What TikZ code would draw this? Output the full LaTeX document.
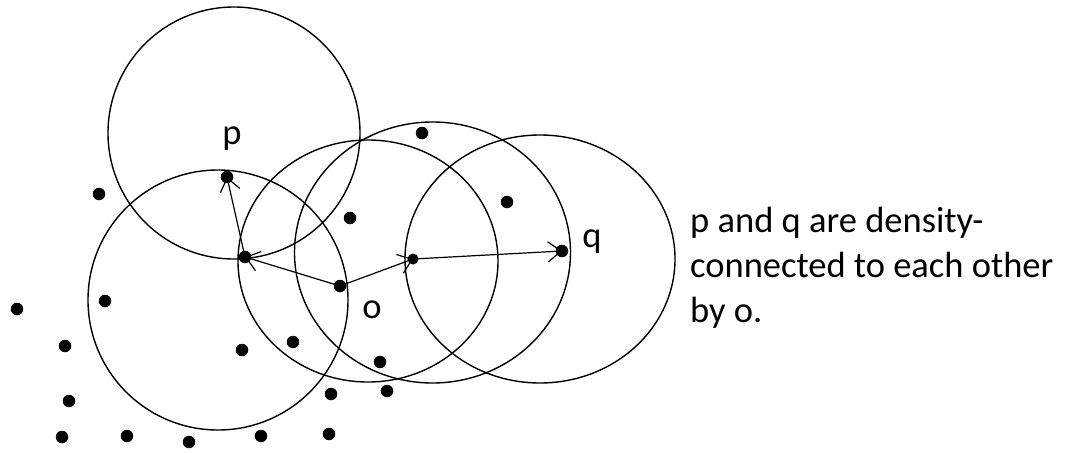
\documentclass[tikz,border=0pt]{standalone}
\usepackage{fontspec}
\setmainfont{Carlito}
\usetikzlibrary{arrows.meta}
\begin{document}
\begin{tikzpicture}[x=1pt,y=-1pt,
  dot/.style={circle, fill=black, inner sep=0pt, minimum size=12.5pt},
  ring/.style={draw=black, line width=1.4pt},
  link/.style={draw=black, line width=1.2pt, -{Straight Barb[length=13pt, width=20pt, line width=1.2pt]}},
  lbl/.style={font=\fontsize{36.5pt}{45pt}\selectfont, inner sep=0pt, anchor=base},
  caption/.style={font=\fontsize{36.5pt}{45pt}\selectfont, inner sep=0pt, anchor=base west}]
\useasboundingbox (0,0) rectangle (1067,452);
% circles (neighbourhoods)
\draw[ring] (234,133) ellipse [x radius=126pt, y radius=126pt];
\draw[ring] (218,300) ellipse [x radius=130pt, y radius=130pt];
\draw[ring] (368,261) ellipse [x radius=130pt, y radius=121pt];
\draw[ring] (432.5,252.5) ellipse [x radius=138pt, y radius=130.5pt];
\draw[ring] (540,259) ellipse [x radius=135pt, y radius=124pt];
% named points
\node[dot] (p) at (227,177) {};
\node[dot] (a) at (245,257) {};
\node[dot] (o) at (340,286) {};
\node[dot, minimum size=11pt] (r) at (413,259) {};
\node[dot] (q) at (562,251) {};
% other points
\node[dot] (d1) at (99,194) {};
\node[dot] (d2) at (350,218) {};
\node[dot] (d3) at (422,133) {};
\node[dot] (d4) at (507,202) {};
\node[dot] (d5) at (105,301) {};
\node[dot] (d6) at (17,309) {};
\node[dot] (d7) at (65,346) {};
\node[dot] (d8) at (242,350) {};
\node[dot] (d9) at (293,342) {};
\node[dot] (d10) at (380,362) {};
\node[dot] (d11) at (331,394) {};
\node[dot] (d12) at (387,391) {};
\node[dot] (d13) at (69,401) {};
\node[dot] (d14) at (62,437) {};
\node[dot] (d15) at (127,436) {};
\node[dot] (d16) at (189,442) {};
\node[dot] (d17) at (261,436) {};
\node[dot] (d18) at (329,434) {};
% arrows
\draw[link] (a.center) -- (p.center);
\draw[link] (o.center) -- (a.center);
\draw[link] (o.center) -- (r.center);
\draw[link] (r.center) -- (q.center);
% labels
\node[lbl] (lp) at (232,144) {p};
\node[lbl] (lo) at (372,318) {o};
\node[lbl] (lq) at (592,247) {q};
\node[caption] (t1) at (690,232) {p and q are density-};
\node[caption] (t2) at (690,277) {connected to each other};
\node[caption] (t3) at (690,322) {by o.};
\end{tikzpicture}
\end{document}
